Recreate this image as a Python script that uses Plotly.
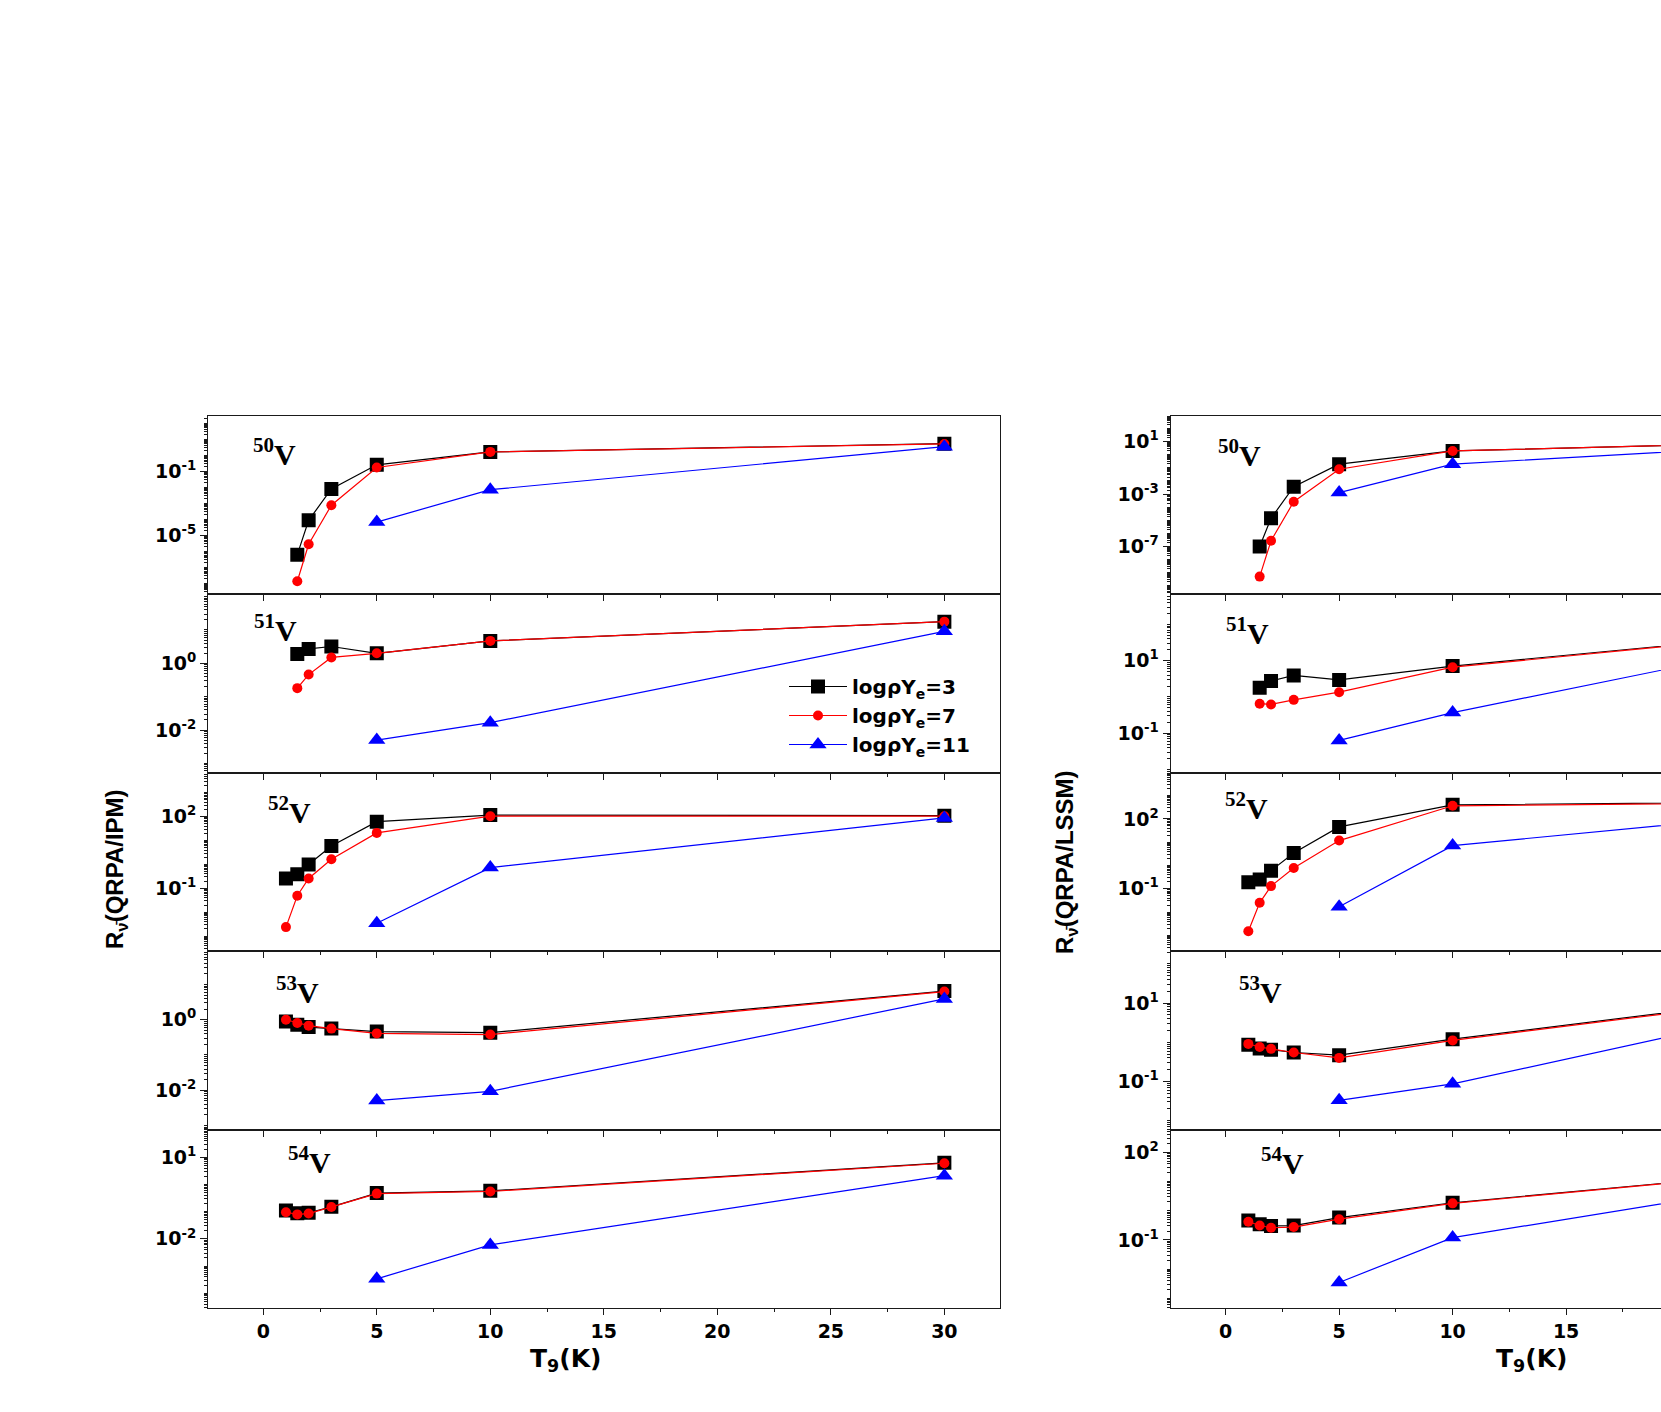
import plotly.graph_objects as go
import math

W, H = 1661, 1412

# ---------------- data (T9 in K) ----------------
T_ALL = [1, 1.5, 2, 3, 5, 10, 30]
T_MID = [1.5, 2, 3, 5, 10, 30]
T_HIGH = [5, 10, 30]

isotopes = ["50", "51", "52", "53", "54"]
series_names = ["logρY<sub>e</sub>=3", "logρY<sub>e</sub>=7", "logρY<sub>e</sub>=11"]

# Left column: R(QRPA/IPM)
ipm50_rho3 = [6.3e-7, 8.7e-5, 7.8e-3, 0.25, 1.6, 5.2]
ipm50_rho7 = [1.4e-8, 2.8e-6, 7.6e-4, 0.17, 1.6, 5.0]
ipm50_rho11 = [6.8e-5, 7.1e-3, 3.4]

ipm51_rho3 = [1.9, 2.7, 3.2, 2.0, 4.7, 17.8]
ipm51_rho7 = [0.18, 0.46, 1.5, 2.0, 4.7, 17.8]
ipm51_rho11 = [5.0e-3, 1.66e-2, 9.1]

ipm52_rho3 = [0.26, 0.39, 1.0, 5.9, 62, 117, 110]
ipm52_rho7 = [2.4e-3, 0.049, 0.26, 1.66, 21, 105, 105]
ipm52_rho11 = [3.5e-3, 0.74, 89]

ipm53_rho3 = [0.89, 0.72, 0.62, 0.56, 0.46, 0.43, 6.5]
ipm53_rho7 = [1.0, 0.81, 0.68, 0.56, 0.41, 0.38, 6.3]
ipm53_rho11 = [5.1e-3, 9.3e-3, 3.9]

ipm54_rho3 = [0.11, 0.087, 0.091, 0.15, 0.48, 0.58, 6.2]
ipm54_rho7 = [0.095, 0.079, 0.085, 0.148, 0.46, 0.55, 6.0]
ipm54_rho11 = [3.4e-4, 6.0e-3, 2.1]

# Right column: R(QRPA/LSSM)
lssm50_rho3 = [1.0e-7, 1.4e-5, 3.6e-3, 0.19, 1.95, 14.8]
lssm50_rho7 = [5.0e-10, 2.75e-7, 2.6e-4, 0.078, 1.95, 14.8]
lssm50_rho11 = [1.3e-3, 0.19, 17.8]

lssm51_rho3 = [1.8, 2.75, 3.9, 2.95, 7.1, 110]
lssm51_rho7 = [0.65, 0.62, 0.83, 1.35, 6.6, 110]
lssm51_rho11 = [0.063, 0.37, 129]

lssm52_rho3 = [0.19, 0.25, 0.6, 3.4, 45, 400, 575]
lssm52_rho7 = [1.5e-3, 0.025, 0.13, 0.78, 11.7, 363, 550]
lssm52_rho11 = [0.017, 7.1, 525]

lssm53_rho3 = [0.87, 0.69, 0.65, 0.55, 0.47, 1.2, 33]
lssm53_rho7 = [0.91, 0.76, 0.68, 0.55, 0.4, 1.12, 31.6]
lssm53_rho11 = [0.033, 0.087, 29]

lssm54_rho3 = [0.46, 0.34, 0.30, 0.31, 0.58, 1.86, 51]
lssm54_rho7 = [0.42, 0.31, 0.26, 0.275, 0.51, 1.78, 50]
lssm54_rho11 = [3.5e-3, 0.12, 39]

x_ticks = [0, 5, 10, 15, 20, 25, 30]

left_data = [
    (T_MID, ipm50_rho3, T_MID, ipm50_rho7, T_HIGH, ipm50_rho11),
    (T_MID, ipm51_rho3, T_MID, ipm51_rho7, T_HIGH, ipm51_rho11),
    (T_ALL, ipm52_rho3, T_ALL, ipm52_rho7, T_HIGH, ipm52_rho11),
    (T_ALL, ipm53_rho3, T_ALL, ipm53_rho7, T_HIGH, ipm53_rho11),
    (T_ALL, ipm54_rho3, T_ALL, ipm54_rho7, T_HIGH, ipm54_rho11),
]
right_data = [
    (T_MID, lssm50_rho3, T_MID, lssm50_rho7, T_HIGH, lssm50_rho11),
    (T_MID, lssm51_rho3, T_MID, lssm51_rho7, T_HIGH, lssm51_rho11),
    (T_ALL, lssm52_rho3, T_ALL, lssm52_rho7, T_HIGH, lssm52_rho11),
    (T_ALL, lssm53_rho3, T_ALL, lssm53_rho7, T_HIGH, lssm53_rho11),
    (T_ALL, lssm54_rho3, T_ALL, lssm54_rho7, T_HIGH, lssm54_rho11),
]

# ---------------- layout / style ----------------
left_yrange = [[-8.67, 2.46], [-3.28, 2.07], [-3.62, 3.84], [-3.12, 1.95], [-4.53, 2.01]]
left_ymajor = [[-1, -5], [0, -2], [2, -1], [0, -2], [1, -2]]
right_yrange = [[-10.65, 2.98], [-2.09, 2.83], [-3.67, 3.98], [-2.23, 2.33], [-3.32, 2.77]]
right_ymajor = [[1, -3, -7], [1, -1], [2, -1], [1, -1], [2, -1]]

panel_px = [415.7, 594.3, 772.7, 951.0, 1129.7, 1307.7]
left_px = (208.3, 1000.0)
right_px = (1170.7, 1661.0)
left_xrange = [-2.42, 32.45]
right_xrange = [-2.42, 19.18]

label_left = [(250.7, 452), (252.3, 628), (265.7, 810), (274.3, 990), (286.0, 1160)]
label_right = [(1216.0, 453), (1224.0, 631), (1223.0, 806), (1237.0, 990), (1258.6, 1161)]

colors = ["#000000", "#ff0000", "#0000ff"]
symbols = ["square", "circle", "triangle-up"]
msizes = [14, 10, 15]

TICKFONT = dict(family="DejaVu Sans", size=19, color="black", weight="bold")
AXCOL = "#1a1a1a"

fig = go.Figure()


def minor_vals(lo, hi):
    vals = []
    for n in range(math.floor(lo) - 1, math.ceil(hi) + 1):
        for k in range(1, 10):
            v = k * 10 ** n
            if lo <= math.log10(v) <= hi:
                vals.append(v)
    return vals


annotations = []
for col, (data, yr, ymaj, xpx, xr, labs) in enumerate([
        (left_data, left_yrange, left_ymajor, left_px, left_xrange, label_left),
        (right_data, right_yrange, right_ymajor, right_px, right_xrange, label_right)]):
    for row in range(5):
        idx = col * 5 + row + 1
        xa = "x" if idx == 1 else f"x{idx}"
        ya = "y" if idx == 1 else f"y{idx}"
        xs = data[row]
        for s in range(3):
            fig.add_trace(go.Scatter(
                x=xs[2 * s], y=xs[2 * s + 1], xaxis=xa, yaxis=ya,
                mode="lines+markers", name=series_names[s],
                legendgroup=f"g{s}", showlegend=(idx == 1),
                line=dict(color=colors[s], width=1.2),
                marker=dict(symbol=symbols[s], size=msizes[s], color=colors[s],
                            line=dict(width=0)),
                cliponaxis=True))
        top, bot = panel_px[row], panel_px[row + 1]
        fig.layout[f"xaxis{'' if idx == 1 else idx}"] = dict(
            domain=[xpx[0] / W, xpx[1] / W], range=xr, anchor=ya,
            tickmode="array", tickvals=x_ticks, ticks="outside", ticklen=6,
            tickwidth=1.2, tickcolor=AXCOL,
            minor=dict(tickmode="array", tickvals=[2.5, 7.5, 12.5, 17.5, 22.5, 27.5],
                       ticks="outside", ticklen=3, tickwidth=1, tickcolor=AXCOL),
            showticklabels=(row == 4), tickfont=TICKFONT,
            showline=True, linecolor=AXCOL, linewidth=1.3, mirror=True,
            showgrid=False, zeroline=False)
        lo, hi = yr[row]
        fig.layout[f"yaxis{'' if idx == 1 else idx}"] = dict(
            domain=[1 - bot / H, 1 - top / H], type="log", range=[lo, hi], anchor=xa,
            tickmode="array", tickvals=[10 ** m for m in ymaj[row]],
            ticktext=[f"10<sup>{m}</sup>" for m in ymaj[row]],
            ticks="outside", ticklen=7, tickwidth=1.2, tickcolor=AXCOL,
            minor=dict(tickmode="array", tickvals=minor_vals(lo, hi), ticks="outside",
                       ticklen=3, tickwidth=0.8, tickcolor=AXCOL),
            tickfont=TICKFONT,
            showline=True, linecolor=AXCOL, linewidth=1.3, mirror=(col == 0),
            showgrid=False, zeroline=False)
        lx, ly = labs[row]
        annotations.append(dict(
            x=lx / W, y=1 - ly / H, xref="paper", yref="paper", xanchor="left",
            yanchor="middle", showarrow=False,
            text=f"<sup>{isotopes[row]}</sup>V",
            font=dict(family="Liberation Serif", size=30, color="black", weight="bold")))

TITLEFONT = dict(family="Liberation Sans", size=24, color="black", weight="bold")
XTITLEFONT = dict(family="DejaVu Sans", size=25, color="black", weight="bold")
annotations += [
    dict(x=116 / W, y=1 - 869 / H, xref="paper", yref="paper", showarrow=False,
         textangle=-90, text="R<sub>ν̄</sub>(QRPA/IPM)", font=TITLEFONT,
         xanchor="center", yanchor="middle"),
    dict(x=1067 / W, y=1 - 862 / H, xref="paper", yref="paper", showarrow=False,
         textangle=-90, text="R<sub>ν̄</sub>(QRPA/LSSM)", font=TITLEFONT,
         xanchor="center", yanchor="middle"),
    dict(x=565 / W, y=1 - 1360 / H, xref="paper", yref="paper", showarrow=False,
         text="T<sub>9</sub>(K)", font=XTITLEFONT, xanchor="center", yanchor="middle"),
    dict(x=1531 / W, y=1 - 1360 / H, xref="paper", yref="paper", showarrow=False,
         text="T<sub>9</sub>(K)", font=XTITLEFONT, xanchor="center", yanchor="middle"),
]

fig.update_layout(
    width=W, height=H, autosize=False,
    margin=dict(l=0, r=0, t=0, b=0),
    paper_bgcolor="white", plot_bgcolor="white",
    annotations=annotations,
    showlegend=True,
    legend=dict(x=784 / W, y=1 - 667 / H, xanchor="left", yanchor="top",
                bgcolor="rgba(0,0,0,0)", tracegroupgap=0, traceorder="grouped",
                itemwidth=58,
                font=dict(family="DejaVu Sans", size=20, color="black", weight="bold")),
)

fig.write_html("out.html", config={"displayModeBar": False},
               post_script="document.body.style.margin='0';document.body.style.overflow='hidden';")
